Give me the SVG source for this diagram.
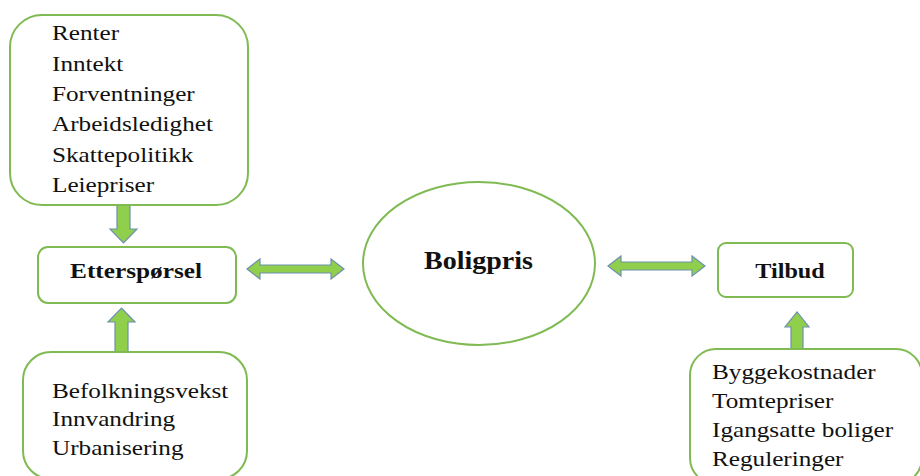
<svg xmlns="http://www.w3.org/2000/svg" width="920" height="476" viewBox="0 0 920 476">
<style>
.box{fill:#fff;stroke:#7fba52;stroke-width:2}
.t{font-family:"Liberation Serif","Times New Roman",serif;font-size:21px;fill:#111}
.b{font-family:"Liberation Serif","Times New Roman",serif;font-size:22px;font-weight:bold;fill:#111}
.arr{fill:#8fcf4c;stroke:#6f8fb0;stroke-width:1.2;stroke-linejoin:miter}
</style>
<rect width="920" height="476" fill="#fff"/>
<g id="connectors">
<polygon class="arr" points="117,205 130,205 130,229 137,229 123.5,243 110,229 117,229"/>
<polygon class="arr" points="115,352 128,352 128,322 135,322 121.5,308 108,322 115,322"/>
<polygon class="arr" points="247,269 260,259 260,265 331,265 331,259 344,269 331,279 331,273 260,273 260,279"/>
<polygon class="arr" points="608,266 621,256 621,262 692,262 692,256 705,266 692,276 692,270 621,270 621,276"/>
<polygon class="arr" points="791,349 803,349 803,327 809,327 797,312 785,327 791,327"/>
</g>
<g id="demand-factors">
<rect class="box" x="10" y="15" width="238" height="190" rx="32"/>
<g transform="translate(52,0) scale(1.2,1)">
<text class="t" x="0" y="40.5">Renter</text>
<text class="t" x="0" y="70.8">Inntekt</text>
<text class="t" x="0" y="101">Forventninger</text>
<text class="t" x="0" y="131.4">Arbeidsledighet</text>
<text class="t" x="0" y="161.7">Skattepolitikk</text>
<text class="t" x="0" y="192">Leiepriser</text>
</g>
</g>
<g id="etterspoersel">
<rect class="box" x="38" y="247" width="198" height="56" rx="10"/>
<text class="b" text-anchor="middle" transform="translate(136,278) scale(1.15,1)">Etterspørsel</text>
</g>
<g id="population-factors">
<rect class="box" x="23" y="352" width="224" height="127" rx="28"/>
<g transform="translate(52,0) scale(1.2,1)">
<text class="t" x="0" y="398">Befolkningsvekst</text>
<text class="t" x="0" y="426.5">Innvandring</text>
<text class="t" x="0" y="455">Urbanisering</text>
</g>
</g>
<g id="boligpris">
<ellipse class="box" cx="479" cy="263.5" rx="116" ry="81.5"/>
<text class="b" text-anchor="middle" style="font-size:25px" transform="translate(478.5,269) scale(1.12,1)">Boligpris</text>
</g>
<g id="tilbud">
<rect class="box" x="718" y="243" width="135" height="54" rx="8"/>
<text class="b" text-anchor="middle" transform="translate(790,278) scale(1.1,1)">Tilbud</text>
</g>
<g id="supply-factors">
<rect class="box" x="690" y="349" width="232" height="135" rx="26"/>
<g transform="translate(712,0) scale(1.2,1)">
<text class="t" x="0" y="379">Byggekostnader</text>
<text class="t" x="0" y="408">Tomtepriser</text>
<text class="t" x="0" y="437">Igangsatte boliger</text>
<text class="t" x="0" y="466">Reguleringer</text>
</g>
</g>
</svg>
